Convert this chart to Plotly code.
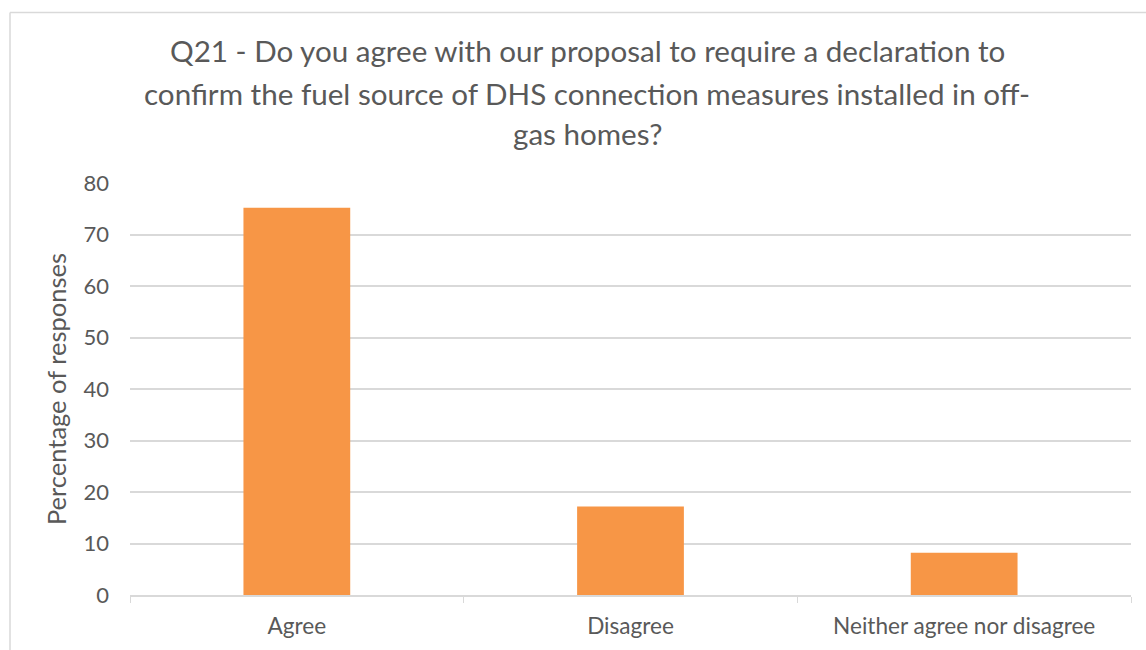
import plotly.graph_objects as go

# Survey responses to Q21
categories = ["Agree", "Disagree", "Neither agree nor disagree"]
percentages = [75.2, 17.2, 8.2]
y_ticks = [0, 10, 20, 30, 40, 50, 60, 70, 80]
title_lines = [
    "Q21 - Do you agree with our proposal to require a declaration to",
    "confirm the fuel source of DHS connection measures installed in off-",
    "gas homes?",
]

W, H = 1146, 650
L, R, T, B = 130, 15, 183, 55
plot_w = W - L - R
plot_h = H - T - B

def px_x(x):
    return (x - L) / plot_w

def px_y(y):
    return (H - B - y) / plot_h

FONT = "Lato"
GREY = "#595959"
GRID = "#d9d9d9"
BAR = "#f79646"

fig = go.Figure(
    go.Bar(
        x=categories,
        y=percentages,
        marker=dict(color=BAR, line=dict(width=0)),
        width=0.32,
    )
)

annotations = []
for line, y in zip(title_lines, [51, 93, 134]):
    annotations.append(
        dict(
            text=line,
            xref="paper",
            yref="paper",
            x=px_x(587),
            y=px_y(y),
            xanchor="center",
            yanchor="middle",
            showarrow=False,
            font=dict(family=FONT, size=29.6, color=GREY),
        )
    )

# outer chart frame (top and left edges)
shapes = [
    dict(type="line", xref="paper", yref="paper",
         x0=px_x(10), x1=px_x(W + 5), y0=px_y(12.5), y1=px_y(12.5),
         line=dict(color=GRID, width=1.5)),
    dict(type="line", xref="paper", yref="paper",
         x0=px_x(10), x1=px_x(10), y0=px_y(12.5), y1=px_y(H + 5),
         line=dict(color=GRID, width=1.5)),
]

fig.update_layout(
    width=W,
    height=H,
    margin=dict(l=L, r=R, t=T, b=B),
    paper_bgcolor="white",
    plot_bgcolor="white",
    showlegend=False,
    annotations=annotations,
    shapes=shapes,
    font=dict(family=FONT, color=GREY),
    xaxis=dict(
        showline=True,
        linecolor=GRID,
        linewidth=1.5,
        ticks="outside",
        tickson="boundaries",
        ticklen=6,
        tickcolor=GRID,
        tickfont=dict(family=FONT, size=22.6, color=GREY),
        ticklabelstandoff=10,
        showgrid=False,
    ),
    yaxis=dict(
        range=[0, 80],
        tickvals=y_ticks,
        showgrid=True,
        gridcolor=GRID,
        gridwidth=1.5,
        zeroline=False,
        showline=False,
        tickfont=dict(family=FONT, size=22, color=GREY),
        ticklabelstandoff=20,
        title=dict(
            text="Percentage of responses",
            font=dict(family=FONT, size=25.5, color=GREY),
            standoff=9,
        ),
    ),
)

fig.write_html("out.html")
